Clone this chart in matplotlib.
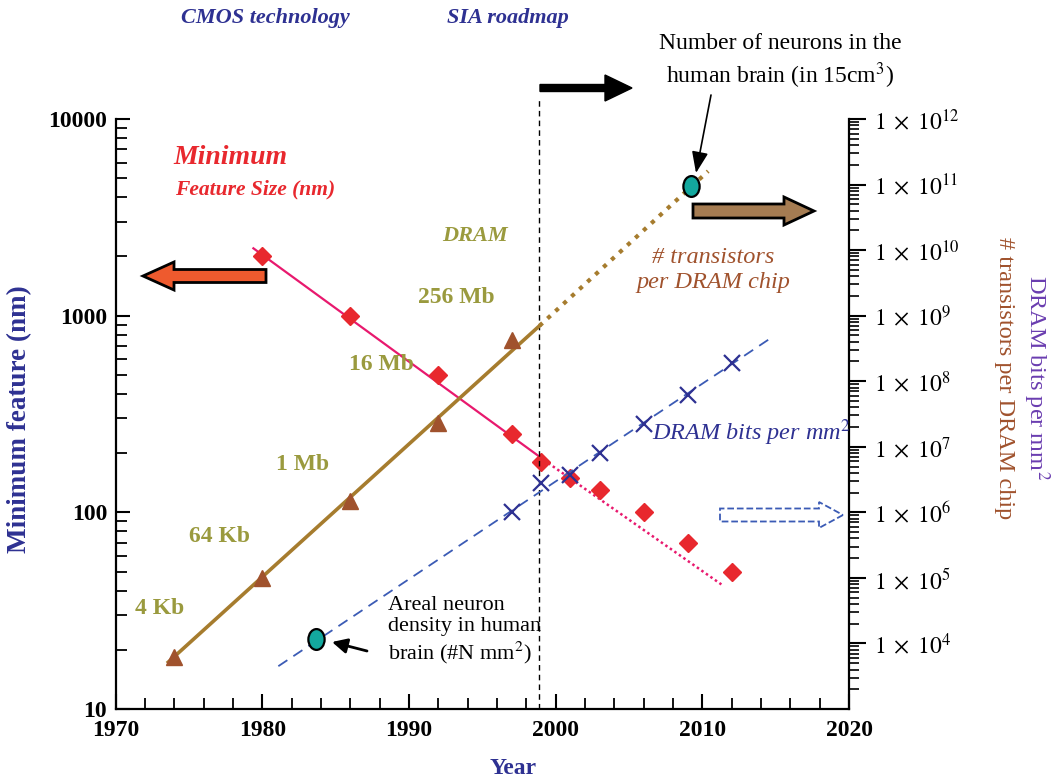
import matplotlib
matplotlib.use("Agg")
import matplotlib.pyplot as plt
from matplotlib.patches import FancyArrow
from matplotlib.path import Path
from matplotlib.transforms import Affine2D
from matplotlib.ticker import LogLocator, NullFormatter, MultipleLocator

plt.rcParams['font.family'] = ['Liberation Serif', 'DejaVu Serif']
plt.rcParams['mathtext.fontset'] = 'stix'

# ── Data ──────────────────────────────────────────────────────────────────────
feat_years = [1980, 1986, 1992, 1997, 1999, 2001, 2003, 2006, 2009, 2012]
feat_nm    = [2000, 1000, 500, 250, 180, 150, 130, 100, 70, 50]
feat_fit_years  = [1979.4, 1999.5]
feat_fit_nm     = [2200, 178]
feat_proj_years = [1999.5, 2011.3]
feat_proj_nm    = [178, 43]

chip_years  = [1974, 1980, 1986, 1992, 1997]
chip_trans  = [6.2e3, 1.0e5, 1.5e6, 2.3e7, 4.3e8]
chip_labels = ["4 Kb", "64 Kb", "1 Mb", "16 Mb", "256 Mb"]
chip_fit_years  = [1973.6, 1998.9]
chip_fit_vals   = [5.2e3, 7.0e8]
chip_proj_years = [1998.9, 2010.4]
chip_proj_vals  = [7.0e8, 1.6e11]

bits_years = [1997, 1999, 2001, 2003, 2006, 2009, 2012]
bits_mm2   = [1.0e6, 2.8e6, 3.7e6, 7.9e6, 2.2e7, 6.1e7, 1.9e8]
bits_fit_years = [1981.1, 2014.7]
bits_fit_vals  = [4.5e3, 4.6e8]

neuron_years = [2009.2, 1983.7]
neuron_vals  = [9.6e10, 1.16e4]

roadmap_year = 1998.9

left_ticks  = [10, 100, 1000, 10000]
right_exps  = [4, 5, 6, 7, 8, 9, 10, 11, 12]
year_ticks  = [1970, 1980, 1990, 2000, 2010, 2020]

# ── Colours ───────────────────────────────────────────────────────────────────
NAVY   = "#2E3192"
RED    = "#E8282E"
PINK   = "#E8196E"
OLIVE  = "#9A9A3E"
SIENNA = "#A0522D"
GOLD   = "#A67C2E"
TEAL   = "#13A89E"

W, H = 1051, 782
def fx(x): return x / W
def fy(y): return 1 - y / H

fig = plt.figure(figsize=(W / 100, H / 100), dpi=100)
ax = fig.add_axes([fx(115.5), fy(709), 733.5 / W, 590 / H])
ax2 = ax.twinx()

ax.set_xlim(1970, 2020)
ax.set_yscale("log")
ax.set_ylim(10, 10000)
ax2.set_yscale("log")
ax2.set_ylim(1e3, 1e12)

for a in (ax, ax2):
    a.spines["top"].set_visible(False)
    for s in a.spines.values():
        s.set_linewidth(1.6)
ax.spines["right"].set_visible(False)
ax2.spines["left"].set_visible(False)
ax2.spines["bottom"].set_visible(False)

ax.set_xticks(year_ticks)
ax.set_xticklabels([str(y) for y in year_ticks], fontweight="bold", fontsize=17)
ax.xaxis.set_minor_locator(MultipleLocator(2))
ax.tick_params(axis="x", which="major", direction="in", length=11, width=1.5, pad=8)
ax.tick_params(axis="x", which="minor", direction="in", length=8, width=1.3)

ax.set_yticks(left_ticks)
ax.set_yticklabels([str(v) for v in left_ticks], fontweight="bold", fontsize=17)
ax.yaxis.set_minor_locator(LogLocator(base=10, subs=range(2, 10), numticks=20))
ax.yaxis.set_minor_formatter(NullFormatter())
ax.tick_params(axis="y", which="major", direction="in", length=10, width=1.5, pad=6)
ax.tick_params(axis="y", which="minor", direction="in", length=8, width=1.3)

ax2.set_yticks([10.0 ** e for e in right_exps])
ax2.set_yticklabels([r"$1\;\times\;10^{%d}$" % e for e in right_exps], fontsize=17)
ax2.yaxis.set_minor_locator(LogLocator(base=10, subs=range(2, 10), numticks=30))
ax2.yaxis.set_minor_formatter(NullFormatter())
ax2.tick_params(axis="y", which="major", direction="out", length=12, width=1.5, pad=6)
ax2.tick_params(axis="y", which="minor", direction="out", length=7, width=1.2)

# ── Series ────────────────────────────────────────────────────────────────────
ax.plot(feat_fit_years, feat_fit_nm, color=PINK, lw=1.6, zorder=3)
ax.plot(feat_proj_years, feat_proj_nm, color=PINK, lw=1.8, ls=(0, (1, 1.2)), zorder=3)
ax.plot(feat_years, feat_nm, ls="none", marker="D", ms=9, color=RED, mec=RED, zorder=4)

ax2.plot(chip_fit_years, chip_fit_vals, color=GOLD, lw=2.6, zorder=3)
ax2.plot(chip_proj_years, chip_proj_vals, color=GOLD, lw=3, ls=(0, (1, 1.6)), zorder=3)
ax2.plot(chip_years, chip_trans, ls="none", marker="^", ms=11, color=SIENNA, zorder=4)

ax2.plot(bits_fit_years, bits_fit_vals, color="#3B5BB5", lw=1.3, ls=(0, (6, 4)), zorder=3)
ax2.plot(bits_years, bits_mm2, ls="none", marker="x", ms=12, mew=1.6, color=NAVY, zorder=5)

ell = Path.unit_circle().transformed(Affine2D().scale(0.78, 1.0))
ax2.plot(neuron_years, neuron_vals, ls="none", marker=ell, ms=15, mfc=TEAL, mec="black",
         mew=1.6, zorder=6, clip_on=False)

ax2.plot([roadmap_year, roadmap_year], [1e3, 2e12], color="black", lw=1.0,
         ls=(0, (4, 3)), zorder=2, clip_on=False)

# ── Block arrows (figure pixel layout) ────────────────────────────────────────
def block_arrow(x0, x1, y, shaft, head, head_len, **kw):
    fig.patches.append(FancyArrow(fx(x0), fy(y), fx(x1) - fx(x0), 0,
                                  width=shaft / H, head_width=head / H,
                                  head_length=head_len / W, length_includes_head=True,
                                  transform=fig.transFigure, figure=fig, **kw))

block_arrow(540, 632, 88, 7, 26, 27, facecolor="black", edgecolor="black", lw=1)
block_arrow(266, 143, 276, 13, 28, 31, facecolor="#EE5A2E", edgecolor="black", lw=2)
block_arrow(693, 814, 211, 14, 28, 30, facecolor="#A57C52", edgecolor="black", lw=2)
block_arrow(720, 843, 515, 13, 26, 24, fill=False, edgecolor="#3B5BB5", lw=1.3, ls="--")

# ── Text ──────────────────────────────────────────────────────────────────────
fig.text(fx(265), fy(18), "CMOS technology", color=NAVY, fontsize=16, fontweight="bold",
         style="italic", ha="center", va="center")
fig.text(fx(508), fy(18), "SIA roadmap", color=NAVY, fontsize=16, fontweight="bold",
         style="italic", ha="center", va="center")
fig.text(fx(780), fy(62), "Number of neurons in the\nhuman brain (in 15cm$^3$)", fontsize=17,
         ha="center", va="center", linespacing=1.3)

fig.text(fx(230), fy(158), "Minimum", color=RED, fontsize=20, fontweight="bold",
         style="italic", ha="center", va="center")
fig.text(fx(255), fy(189), "Feature Size (nm)", color=RED, fontsize=15.5, fontweight="bold",
         style="italic", ha="center", va="center")

fig.text(fx(475), fy(236), "DRAM", color=OLIVE, fontsize=16, fontweight="bold",
         style="italic", ha="center", va="center")
label_pos = [(160, 608), (219, 537), (303, 465), (381, 365), (456, 297)]
for lab, (px, py) in zip(chip_labels, label_pos):
    fig.text(fx(px), fy(py), lab, color=OLIVE, fontsize=17, fontweight="bold",
             ha="center", va="center")

fig.text(fx(713), fy(270), "# transistors\nper DRAM chip", color=SIENNA, fontsize=17.5,
         style="italic", ha="center", va="center", linespacing=1.3)
fig.text(fx(652), fy(433), "DRAM bits per mm$^2$", color=NAVY, fontsize=17.5,
         style="italic", ha="left", va="center")
fig.text(fx(388), fy(631), "Areal neuron\ndensity in human\nbrain (#N mm$^2$)", fontsize=16,
         ha="left", va="center", linespacing=1.15)

ax.annotate("", xy=(fx(332), fy(642)), xytext=(fx(367), fy(651)), xycoords="figure fraction",
            arrowprops=dict(arrowstyle="-|>,head_length=0.9,head_width=0.45",
                            color="black", lw=2, shrinkA=0, shrinkB=0))
ax.annotate("", xy=(fx(696), fy(173)), xytext=(fx(711), fy(95)), xycoords="figure fraction",
            arrowprops=dict(arrowstyle="-|>,head_length=1.3,head_width=0.5",
                            color="black", lw=1.2, shrinkA=0, shrinkB=0))

# axis titles
fig.text(fx(20), fy(419), "Minimum feature (nm)", color=NAVY, fontsize=19.5, fontweight="bold",
         rotation=90, ha="center", va="center")
fig.text(fx(513), fy(768), "Year", color=NAVY, fontsize=17, fontweight="bold",
         ha="center", va="center")
fig.text(fx(1005), fy(378), "# transistors per DRAM chip", color=SIENNA, fontsize=17.5,
         rotation=270, ha="center", va="center")
fig.text(fx(1036), fy(378), "DRAM bits per mm$^2$", color="#6A3DB0", fontsize=17.5,
         rotation=270, ha="center", va="center")

fig.savefig("out.png", dpi=100, facecolor="white")
